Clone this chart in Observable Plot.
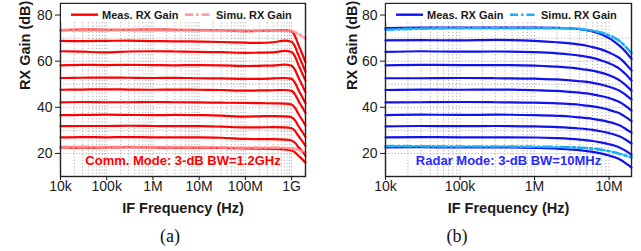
<!DOCTYPE html>
<html><head><meta charset="utf-8">
<script src="https://cdn.jsdelivr.net/npm/d3@7"></script>
<script src="https://cdn.jsdelivr.net/npm/@observablehq/plot@0.6"></script>
<style>
body{margin:0;background:#fff;}
#wrap{position:relative;width:641px;height:251px;overflow:hidden;background:#fff;}
.panel{position:absolute;top:0;}
.cap{position:absolute;top:226px;font-family:"Liberation Serif","Times New Roman",serif;font-size:18px;color:#111;transform:translateX(-50%);}
</style></head><body>
<div id="wrap">
  <div class="panel" id="pa" style="left:0"></div>
  <div class="panel" id="pb" style="left:320px"></div>
  <div class="cap" style="left:170px">(a)</div>
  <div class="cap" style="left:457px">(b)</div>
</div>
<script>
// ---------- Panel (a): Comm. mode ----------
const freqA = [1e4, 3e4, 1e5, 3e5, 1e6, 3e6, 1e7, 3e7, 1e8, 2e8, 4e8, 7e8, 1e9, 1.2e9, 1.4e9, 1.7e9, 2e9];
const measA = [
  [73.5, 73.7, 73.6, 73.6, 73.7, 73.6, 73.5, 73.4, 73.0, 73.1, 73.3, 73.4, 72.9, 70.6, 67.2, 63.1, 59.6],
  [68.8, 68.7, 68.8, 68.9, 68.7, 68.6, 68.5, 68.3, 68.0, 67.9, 68.2, 68.9, 68.4, 66.1, 62.7, 58.8, 55.4],
  [64.3, 64.1, 63.8, 64.2, 64.3, 64.2, 64.0, 63.9, 63.6, 63.7, 63.8, 64.5, 64.0, 61.8, 58.5, 54.7, 51.5],
  [58.2, 58.4, 58.3, 58.4, 58.3, 58.2, 58.3, 58.2, 57.9, 58.0, 58.1, 58.5, 58.0, 56.0, 53.0, 49.5, 46.5],
  [52.7, 52.8, 52.9, 52.8, 52.7, 52.8, 52.6, 52.5, 52.3, 52.3, 52.5, 52.7, 52.3, 50.4, 47.6, 44.5, 41.7],
  [47.6, 47.7, 47.8, 47.7, 47.6, 47.7, 47.6, 47.5, 47.2, 47.3, 47.4, 47.5, 47.1, 45.4, 42.9, 40.0, 37.5],
  [42.1, 42.3, 42.2, 42.2, 42.3, 42.2, 42.1, 42.0, 41.9, 41.8, 41.7, 41.6, 41.2, 39.6, 37.2, 34.5, 32.1],
  [36.6, 36.7, 36.8, 36.7, 36.6, 36.7, 36.6, 36.4, 36.0, 36.1, 36.2, 36.1, 35.7, 34.2, 31.9, 29.4, 27.1],
  [31.8, 31.9, 31.9, 32.0, 31.9, 31.8, 31.8, 31.6, 31.3, 31.3, 31.4, 31.3, 30.9, 29.6, 27.6, 25.3, 23.3],
  [27.0, 27.1, 27.0, 27.1, 27.0, 27.0, 27.0, 26.8, 26.3, 26.2, 26.2, 26.0, 25.6, 24.5, 22.8, 20.9, 19.0],
  [22.6, 22.5, 22.6, 22.7, 22.6, 22.5, 22.5, 22.4, 22.2, 22.1, 22.0, 21.8, 21.3, 20.4, 19.0, 17.5, 16.0]
];
const simA = [
  [73.3, 73.4, 73.4, 73.5, 73.4, 73.4, 73.4, 73.3, 73.3, 73.3, 73.3, 73.2, 73.0, 72.5, 71.8, 70.8, 69.8],
  [22.8, 22.8, 22.7, 22.8, 22.7, 22.7, 22.7, 22.6, 22.5, 22.5, 22.5, 22.4, 22.2, 21.9, 21.5, 21.0, 20.5]
];
const tickValsA = [1e4, 1e5, 1e6, 1e7, 1e8, 1e9];
const tickLabelsA = ["10k", "100k", "1M", "10M", "100M", "1G"];
const annoA = "Comm. Mode: 3-dB BW=1.2GHz";

// ---------- Panel (b): Radar mode ----------
const freqB = [1e4, 3e4, 1e5, 3e5, 1e6, 2e6, 3e6, 4e6, 5e6, 6e6, 8e6, 1e7, 1.2e7, 1.4e7, 1.7e7, 2e7];
const measB = [
  [74.3, 74.5, 74.6, 74.5, 74.5, 74.4, 74.2, 73.9, 73.4, 72.9, 71.6, 70.0, 68.3, 66.5, 63.8, 61.0],
  [69.0, 69.1, 69.0, 69.2, 68.8, 68.2, 67.7, 67.2, 66.7, 66.1, 65.0, 63.8, 62.5, 61.2, 58.6, 56.0],
  [64.0, 64.3, 64.1, 64.2, 63.9, 63.4, 62.9, 62.4, 61.9, 61.4, 60.2, 59.1, 57.9, 56.6, 54.1, 51.6],
  [58.2, 58.4, 58.3, 58.3, 58.1, 57.6, 57.2, 56.7, 56.3, 55.9, 54.9, 53.9, 52.8, 51.6, 49.4, 47.2],
  [52.6, 52.6, 52.7, 52.6, 52.4, 52.1, 51.7, 51.3, 51.0, 50.6, 49.8, 48.9, 48.0, 47.1, 45.2, 43.4],
  [47.5, 47.7, 47.6, 47.7, 47.4, 47.1, 46.7, 46.4, 46.0, 45.6, 44.8, 44.0, 43.1, 42.2, 40.4, 38.6],
  [42.1, 42.2, 42.3, 42.2, 42.0, 41.7, 41.4, 41.1, 40.7, 40.4, 39.7, 38.9, 38.1, 37.3, 35.6, 34.0],
  [36.6, 36.8, 36.7, 36.8, 36.6, 36.3, 36.0, 35.6, 35.3, 35.0, 34.3, 33.6, 32.9, 32.1, 30.5, 29.0],
  [31.7, 31.9, 31.8, 31.9, 31.7, 31.4, 31.1, 30.8, 30.5, 30.2, 29.5, 28.8, 28.1, 27.3, 25.8, 24.3],
  [27.0, 27.1, 27.0, 27.0, 26.9, 26.6, 26.3, 26.0, 25.7, 25.4, 24.7, 24.0, 23.3, 22.5, 21.0, 19.5],
  [22.6, 22.7, 22.6, 22.6, 22.4, 22.1, 21.7, 21.4, 21.0, 20.7, 19.9, 19.1, 18.3, 17.4, 15.6, 13.9]
];
const simB = [
  [73.6, 74.1, 74.3, 74.3, 74.3, 74.3, 74.2, 74.0, 73.6, 73.2, 72.3, 71.2, 70.0, 68.6, 66.0, 63.5],
  [23.2, 23.1, 23.0, 23.0, 22.9, 22.8, 22.7, 22.5, 22.3, 22.1, 21.6, 21.0, 20.4, 19.8, 19.0, 18.3]
];
const tickValsB = [1e4, 1e5, 1e6, 1e7];
const tickLabelsB = ["10k", "100k", "1M", "10M"];
const annoB = "Radar Mode: 3-dB BW=10MHz";

// ---------- shared ----------
const yTicks = [20, 40, 60, 80];
const yGrid = [20, 30, 40, 50, 60, 70, 80];
const legendLabels = ["Meas. RX Gain", "Simu. RX Gain"];
const xLabel = "IF Frequency (Hz)";
const yLabel = "RX Gain (dB)";

const FONT = '"Liberation Sans", Arial, Helvetica, sans-serif';

function rows(freqs, series) {
  return series.flatMap((vals, i) => vals.map((g, j) => ({f: freqs[j], g, id: i})));
}

function panel(cfg) {
  const H = 225, mt = 3, mb = 49;
  const gridTicks = d3.scaleLog().domain(cfg.xDomain).ticks();
  const plot = Plot.plot({
    width: cfg.width, height: H,
    marginLeft: cfg.ml, marginRight: cfg.mr, marginTop: mt, marginBottom: mb,
    x: {type: "log", domain: cfg.xDomain},
    y: {domain: [10, 85]},
    style: {fontFamily: FONT, fontSize: "14px", color: "#1a1a1a", background: "transparent", overflow: "visible"},
    marks: [
      Plot.gridX(gridTicks, {stroke: "#8a8a8a", strokeOpacity: 0.75, strokeDasharray: "1.2,2", strokeWidth: 0.9}),
      Plot.gridY(yGrid, {stroke: "#8a8a8a", strokeOpacity: 0.75, strokeDasharray: "1.2,2", strokeWidth: 0.9}),
      Plot.line(rows(cfg.freqs, cfg.meas), {x: "f", y: "g", z: "id", stroke: cfg.measColor, strokeWidth: 2.2, curve: "monotone-x"}),
      Plot.line(rows(cfg.freqs, cfg.sim), {x: "f", y: "g", z: "id", stroke: cfg.simColor, strokeWidth: cfg.simWidth, strokeOpacity: cfg.simOpacity, strokeDasharray: "9,3,2.5,3", curve: "monotone-x"}),
      Plot.frame({stroke: "#222", strokeWidth: 1.4}),
      Plot.axisX(cfg.ticks, {tickFormat: d => cfg.tickLabels[cfg.ticks.indexOf(d)], tickSize: 4, tickPadding: 1, label: null, fontSize: 14}),
      Plot.axisY(yTicks, {tickSize: 5, tickPadding: 3, label: null, fontSize: 14}),
      Plot.text([cfg.anno], {frameAnchor: "bottom", dy: -12, fill: cfg.annoColor, fontWeight: "bold", fontSize: 13}),
      Plot.text([xLabel], {frameAnchor: "bottom", dy: 36, fontWeight: "bold", fontSize: 14.5, fill: "#1a1a1a"}),
      Plot.text([yLabel], {frameAnchor: "left", dx: cfg.ylabDx, rotate: -90, fontWeight: "bold", fontSize: 14.5, fill: "#1a1a1a"})
    ]
  });
  // legend inside the top of the frame
  const svg = d3.select(plot);
  const L = cfg.ml, R = cfg.width - cfg.mr, yc = 14.7;
  const g = svg.append("g").attr("font-family", FONT).attr("font-weight", "bold").attr("font-size", 11).attr("text-anchor", "start");
  g.append("rect").attr("x", L + 1).attr("y", mt + 1).attr("width", R - L - 2).attr("height", 18).attr("fill", "#fff");
  g.append("line").attr("x1", L + 11).attr("x2", L + 38).attr("y1", yc).attr("y2", yc)
    .attr("stroke", cfg.measColor).attr("stroke-width", 2.4);
  g.append("text").attr("x", L + 42).attr("y", yc).attr("dy", "0.35em").attr("text-anchor", "start").attr("fill", "#1a1a1a").text(legendLabels[0]);
  g.append("line").attr("x1", L + 125).attr("x2", L + 152).attr("y1", yc).attr("y2", yc)
    .attr("stroke", cfg.simColor).attr("stroke-width", cfg.simWidth).attr("stroke-opacity", cfg.simOpacity)
    .attr("stroke-dasharray", "8,3,2.5,3");
  g.append("text").attr("x", L + 156).attr("y", yc).attr("dy", "0.35em").attr("text-anchor", "start").attr("fill", "#1a1a1a").text(legendLabels[1]);
  return plot;
}

document.getElementById("pa").append(panel({
  width: 320, ml: 60, mr: 15, xDomain: [1e4, 2e9],
  freqs: freqA, meas: measA, sim: simA,
  ticks: tickValsA, tickLabels: tickLabelsA,
  measColor: "#ff0000", simColor: "#ff8f8f", simWidth: 2.8, simOpacity: 0.85,
  anno: annoA, annoColor: "#ff0000", ylabDx: -35
}));
document.getElementById("pb").append(panel({
  width: 321, ml: 65, mr: 10, xDomain: [1e4, 2e7],
  freqs: freqB, meas: measB, sim: simB,
  ticks: tickValsB, tickLabels: tickLabelsB,
  measColor: "#1212ee", simColor: "#1cb0f5", simWidth: 2.6, simOpacity: 1,
  anno: annoB, annoColor: "#2a2aff", ylabDx: -33
}));
</script>
</body></html>
